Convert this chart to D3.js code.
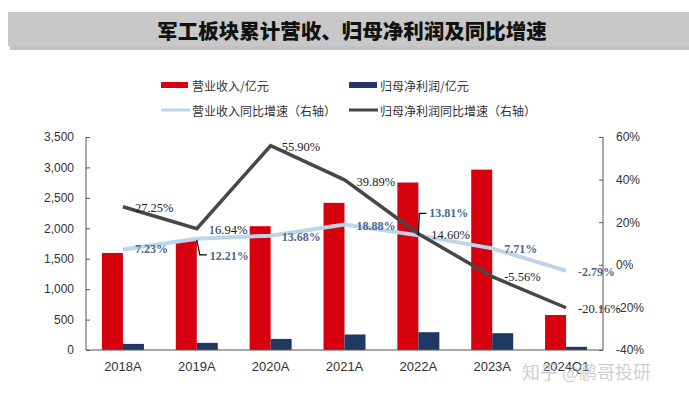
<!DOCTYPE html>
<html><head><meta charset="utf-8">
<script src="https://cdn.jsdelivr.net/npm/d3@7"></script>
<style>body{margin:0;background:#fff}svg{display:block}</style>
</head><body><svg id="c" width="689" height="398"></svg>
<script>
const categories = ["2018A","2019A","2020A","2021A","2022A","2023A","2024Q1"];
const revenue = [1594, 1789, 2034, 2418, 2752, 2964, 575];
const profit = [100, 117, 182, 255, 292, 276, 52];
const revGrowth = [7.23, 12.21, 13.68, 18.88, 13.81, 7.71, -2.79];
const profitGrowth = [27.25, 16.94, 55.90, 39.89, 14.60, -5.56, -20.16];
const leftTicks = [0,500,1000,1500,2000,2500,3000,3500];
const rightTicks = [-40,-20,0,20,40,60];
const title = "军工板块累计营收、归母净利润及同比增速";
const legendItems = ["营业收入/亿元","归母净利润/亿元","营业收入同比增速（右轴）","归母净利润同比增速（右轴）"];

const svg = d3.select("#c");
const sans = "'Liberation Sans','DejaVu Sans',sans-serif";
const cjk = "'Noto Sans CJK SC','Noto Sans',sans-serif";
const serif = "'Liberation Serif','DejaVu Serif',serif";
const RED="#d7000f", NAVY="#1f3864", LBLUE="#bdd5ea", DGRAY="#474747";

// title banner
svg.append("rect").attr("x",10).attr("y",15).attr("width",679).attr("height",35).attr("fill","#9a9a9a").attr("opacity",0.6);
svg.append("rect").attr("x",8).attr("y",12).attr("width",681).attr("height",34).attr("fill","#c8c8c8");
svg.append("text").attr("x",352).attr("y",30).attr("text-anchor","middle").attr("dominant-baseline","central")
  .attr("font-family",cjk).attr("font-weight",900).attr("font-size",20.5).attr("fill","#111").text(title);

const x = d3.scaleBand().domain(categories).range([86,603]).paddingInner(0).paddingOuter(0);
const yL = d3.scaleLinear().domain([0,3500]).range([350,137]);
const yR = d3.scaleLinear().domain([-40,60]).range([350,137]);
const bw = 21;

// bars
const g = svg.append("g");
g.selectAll(".rev").data(categories).join("rect")
  .attr("x",d=>x(d)+x.bandwidth()/2-bw).attr("width",bw)
  .attr("y",(d,i)=>yL(revenue[i])).attr("height",(d,i)=>yL(0)-yL(revenue[i])).attr("fill",RED);
g.selectAll(".pro").data(categories).join("rect")
  .attr("x",d=>x(d)+x.bandwidth()/2).attr("width",bw)
  .attr("y",(d,i)=>yL(profit[i])).attr("height",(d,i)=>yL(0)-yL(profit[i])).attr("fill",NAVY);

// axes
const axL = d3.axisLeft(yL).tickValues(leftTicks).tickSize(-4).tickPadding(12).tickFormat(d3.format(","));
const gL = svg.append("g").attr("transform","translate(86,0)").call(axL);
const axR = d3.axisRight(yR).tickValues(rightTicks).tickSize(-4).tickPadding(13).tickFormat(d=>d+"%");
const gR = svg.append("g").attr("transform","translate(603,0)").call(axR);
const axB = d3.axisBottom(x).tickSize(0).tickPadding(12);
const gB = svg.append("g").attr("transform","translate(0,350)").call(axB);
[gL,gR,gB].forEach(a=>{
  a.selectAll("text").attr("font-family",sans).attr("font-size",12).attr("fill","#333");
  a.select(".domain").attr("stroke","#555");
  a.selectAll(".tick line").attr("stroke","#555");
});
gB.selectAll("text").attr("font-size",13);
gL.select(".domain").attr("d","M0,137V350");
gR.select(".domain").attr("d","M0,137V350");
gB.select(".domain").attr("d","M86,0H603");

// lines
const cx = d=>x(d)+x.bandwidth()/2;
const lineRev = d3.line().x((d,i)=>cx(categories[i])).y(d=>yR(d));
svg.append("path").datum(revGrowth).attr("d",lineRev).attr("fill","none").attr("stroke",LBLUE).attr("stroke-width",4);
svg.append("path").datum(profitGrowth).attr("d",lineRev).attr("fill","none").attr("stroke",DGRAY).attr("stroke-width",3.5).attr("stroke-linejoin","miter");

// data labels
const fmt = v=>v.toFixed(2)+"%";
const revOff = [[12,0],[13,17],[11,1],[12,1],[11,-22],[12,1],[12,1]];
const proOff = [[12,1],[12,1],[11,1],[12,2],[13,1],[12,0],[12,1]];
revGrowth.forEach((v,i)=>{
  const px=cx(categories[i]), py=yR(v);
  svg.append("text").attr("x",px+revOff[i][0]).attr("y",py+revOff[i][1]).attr("dominant-baseline","central")
    .attr("font-family",serif).attr("font-weight","bold").attr("font-size",12).attr("fill","#4a6890").text(fmt(v));
});
profitGrowth.forEach((v,i)=>{
  const px=cx(categories[i]), py=yR(v);
  svg.append("text").attr("x",px+proOff[i][0]).attr("y",py+proOff[i][1]).attr("dominant-baseline","central")
    .attr("font-family",serif).attr("font-size",12.5).attr("fill","#222").text(fmt(v));
});
// leader lines
{
  const px=cx(categories[1]), py=yR(revGrowth[1]);
  svg.append("path").attr("d",`M${px},${py+1}L${px+3},${py+16}H${px+10}`).attr("fill","none").attr("stroke","#000").attr("stroke-width",1.2);
  const qx=cx(categories[4]), qy=yR(revGrowth[4]);
  svg.append("path").attr("d",`M${qx},${qy}L${qx+1},${qy-22}H${qx+8}`).attr("fill","none").attr("stroke","#000").attr("stroke-width",1.2);
}

// legend
const lg = svg.append("g").attr("font-family",cjk).attr("font-size",12).attr("fill","#333");
const lx=[161,349], ly=[85,110];
lg.append("rect").attr("x",lx[0]).attr("y",ly[0]-3).attr("width",27).attr("height",6).attr("fill",RED);
lg.append("rect").attr("x",lx[1]).attr("y",ly[0]-3).attr("width",28).attr("height",6).attr("fill",NAVY);
lg.append("line").attr("x1",lx[0]).attr("x2",lx[0]+29).attr("y1",ly[1]).attr("y2",ly[1]).attr("stroke",LBLUE).attr("stroke-width",3);
lg.append("line").attr("x1",lx[1]).attr("x2",lx[1]+29).attr("y1",ly[1]).attr("y2",ly[1]).attr("stroke",DGRAY).attr("stroke-width",3);
legendItems.forEach((t,i)=>{
  lg.append("text").attr("x",lx[i%2]+31).attr("y",ly[Math.floor(i/2)]).attr("dominant-baseline","central").text(t);
});

// watermark
svg.append("text").attr("x",522).attr("y",371).attr("dominant-baseline","central")
  .attr("font-family",cjk).attr("font-size",18).attr("fill","rgba(190,190,190,0.75)").text("知乎 @鹏哥投研");
</script></body></html>
